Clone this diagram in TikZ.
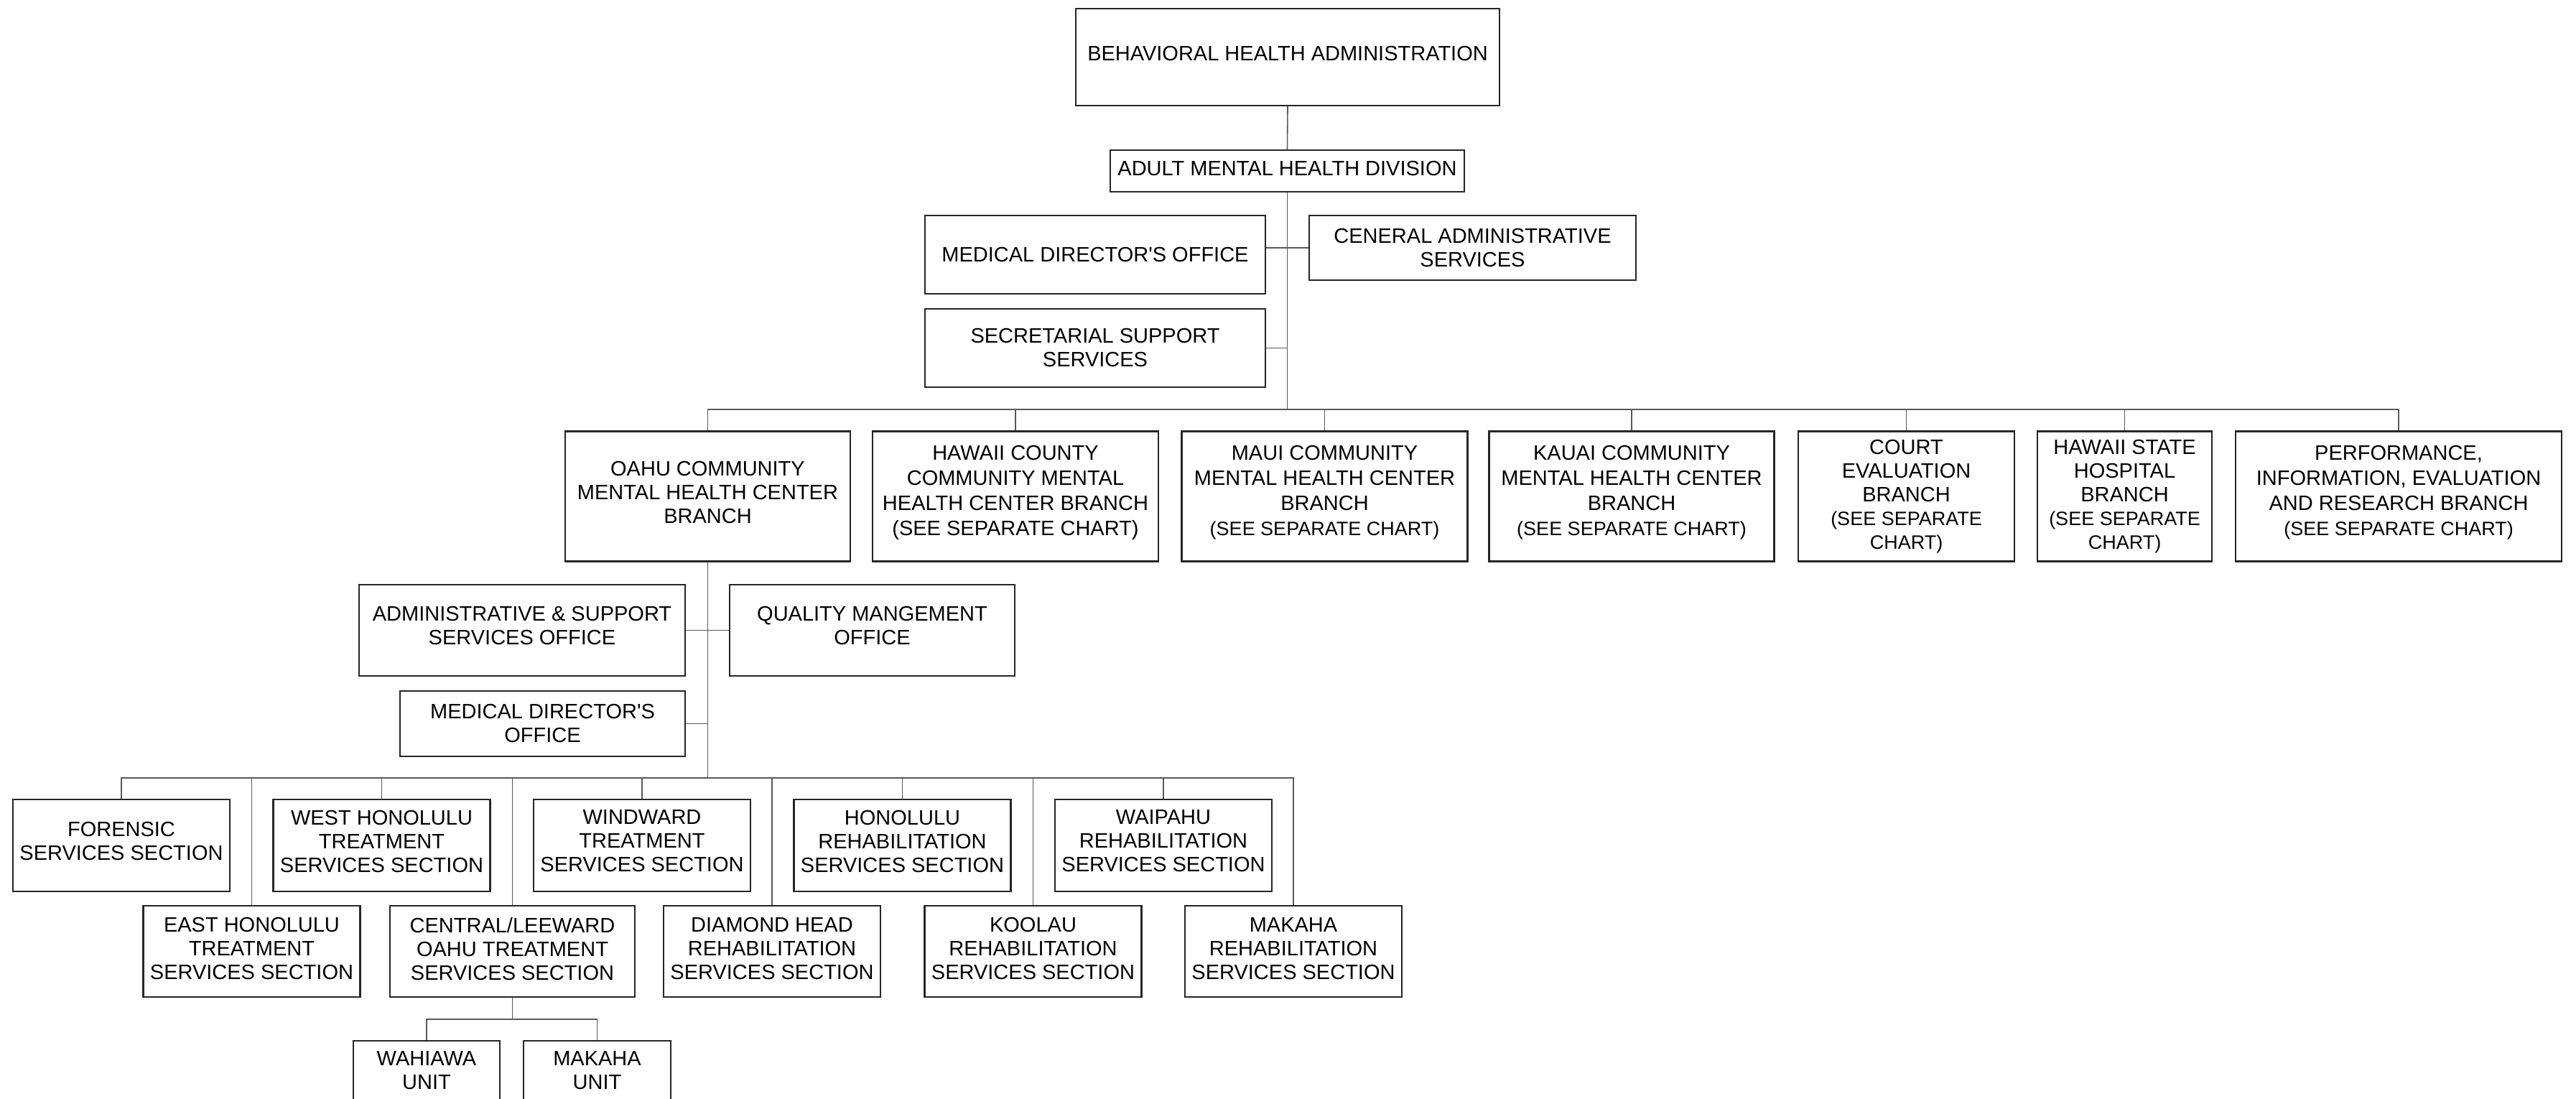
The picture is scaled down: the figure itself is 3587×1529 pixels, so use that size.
\documentclass[tikz,border=0pt]{standalone}
\usepackage{fontspec}
\setmainfont{Liberation Sans}
\begin{document}
\begin{tikzpicture}[x=1pt,y=-1pt,
  box/.style={draw=black!85, line width=2.2pt, fill=white, align=center, inner sep=0pt,
    font=\fontsize{29}{33}\selectfont},
  wide/.style={font=\fontsize{29}{35}\selectfont},
  conn/.style={draw=black!65, line width=1.6pt}]
\newcommand\smtxt[1]{{\fontsize{27}{35}\selectfont #1}}
\useasboundingbox (0,0) rectangle (3587,1529);
\clip (0,0) rectangle (3587,1529);
\fill[white] (0,0) rectangle (3587,1529);

% top levels
\node[box, minimum width=590, minimum height=135, text depth=10pt] (bha) at (1793,79.5) {BEHAVIORAL HEALTH ADMINISTRATION};
\node[box, minimum width=493, minimum height=58, text depth=8pt] (amhd) at (1792.5,238) {ADULT MENTAL HEALTH DIVISION};
\node[box, minimum width=474, minimum height=109] (mdo) at (1525,354.5) {MEDICAL DIRECTOR\textquotesingle S OFFICE};
\node[box, minimum width=455, minimum height=90] (gas) at (2050.5,345) {CENERAL ADMINISTRATIVE\\SERVICES};
\node[box, minimum width=474, minimum height=109] (sss) at (1525,484.5) {SECRETARIAL SUPPORT\\SERVICES};

% branches
\node[box, minimum width=397, minimum height=181, text depth=12pt] (oahu) at (985.5,691) {OAHU COMMUNITY\\MENTAL HEALTH CENTER\\BRANCH};
\node[box, wide, minimum width=398, minimum height=181, text depth=17pt] (hawaii) at (1414,691) {HAWAII COUNTY\\COMMUNITY MENTAL\\HEALTH CENTER BRANCH\\(SEE SEPARATE CHART)};
\node[box, wide, minimum width=398, minimum height=181, text depth=17pt] (maui) at (1844.5,691) {MAUI COMMUNITY\\MENTAL HEALTH CENTER\\BRANCH\\\smtxt{(SEE SEPARATE CHART)}};
\node[box, wide, minimum width=397, minimum height=181, text depth=17pt] (kauai) at (2272,691) {KAUAI COMMUNITY\\MENTAL HEALTH CENTER\\BRANCH\\\smtxt{(SEE SEPARATE CHART)}};
\node[box, minimum width=301, minimum height=181] (court) at (2654.5,691) {COURT\\EVALUATION\\BRANCH\\\smtxt{(SEE SEPARATE}\\\smtxt{CHART)}};
\node[box, minimum width=243, minimum height=181] (hsh) at (2958.5,691) {HAWAII STATE\\HOSPITAL\\BRANCH\\\smtxt{(SEE SEPARATE}\\\smtxt{CHART)}};
\node[box, wide, minimum width=454, minimum height=181, text depth=17pt] (perf) at (3340,691) {PERFORMANCE,\\INFORMATION, EVALUATION\\AND RESEARCH BRANCH\\\smtxt{(SEE SEPARATE CHART)}};

% Oahu offices
\node[box, minimum width=454, minimum height=127, text depth=14pt] (admin) at (727,877.5) {ADMINISTRATIVE \& SUPPORT\\SERVICES OFFICE};
\node[box, minimum width=397, minimum height=127, text depth=14pt] (qmo) at (1214.5,877.5) {QUALITY MANGEMENT\\OFFICE};
\node[box, minimum width=397, minimum height=91] (mdob) at (755.5,1007.5) {MEDICAL DIRECTOR\textquotesingle S\\OFFICE};

% sections top row
\node[box, minimum width=302, minimum height=128, text depth=12pt] (forensic) at (169,1177) {FORENSIC\\SERVICES SECTION};
\node[box, minimum width=302, minimum height=128, text depth=12pt] (west) at (531.5,1177) {WEST HONOLULU\\TREATMENT\\SERVICES SECTION};
\node[box, minimum width=302, minimum height=128, text depth=12pt] (windward) at (894,1177) {WINDWARD\\TREATMENT\\SERVICES SECTION};
\node[box, minimum width=302, minimum height=128, text depth=12pt] (honrehab) at (1256.5,1177) {HONOLULU\\REHABILITATION\\SERVICES SECTION};
\node[box, minimum width=302, minimum height=128, text depth=12pt] (waipahu) at (1620,1177) {WAIPAHU\\REHABILITATION\\SERVICES SECTION};

% sections bottom row
\node[box, minimum width=302, minimum height=127, text depth=8pt] (east) at (350.5,1324.5) {EAST HONOLULU\\TREATMENT\\SERVICES SECTION};
\node[box, minimum width=341, minimum height=127, text depth=8pt] (central) at (713.5,1324.5) {CENTRAL/LEEWARD\\OAHU TREATMENT\\SERVICES SECTION};
\node[box, minimum width=302, minimum height=127, text depth=8pt] (diamond) at (1075,1324.5) {DIAMOND HEAD\\REHABILITATION\\SERVICES SECTION};
\node[box, minimum width=302, minimum height=127, text depth=8pt] (koolau) at (1438.5,1324.5) {KOOLAU\\REHABILITATION\\SERVICES SECTION};
\node[box, minimum width=302, minimum height=127, text depth=8pt] (makaha) at (1801,1324.5) {MAKAHA\\REHABILITATION\\SERVICES SECTION};

% units
\node[box, minimum width=204, minimum height=91, text depth=8pt] (wah) at (594,1494.5) {WAHIAWA\\UNIT};
\node[box, minimum width=205, minimum height=91, text depth=8pt] (maku) at (831.5,1494.5) {MAKAHA\\UNIT};

% bars
\coordinate (bar) at (0,570);
\coordinate (sbar) at (0,1083);
\coordinate (ubar) at (0,1419);

% connectors
\draw[conn] (bha.south) -- (amhd.north);
\draw[conn] (amhd.south) -- (amhd.south |- bar);
\draw[conn] (gas.west) -- (gas.west -| mdo.east);
\draw[conn] (sss.east) -- (sss.east -| amhd.south);
\draw[conn] (oahu.north) -- (oahu.north |- bar) -- (perf.north |- bar) -- (perf.north);
\foreach \n in {hawaii,maui,kauai,court,hsh}
  \draw[conn] (\n.north) -- (\n.north |- bar);

\draw[conn] (oahu.south) -- (oahu.south |- sbar);
\draw[conn] (admin.east) -- (qmo.west);
\draw[conn] (mdob.east) -- (mdob.east -| oahu.south);

\draw[conn] (forensic.north) -- (forensic.north |- sbar) -- (makaha.north |- sbar) -- (makaha.north);
\foreach \n in {west,windward,honrehab,waipahu,east,central,diamond,koolau}
  \draw[conn] (\n.north) -- (\n.north |- sbar);

\draw[conn] (central.south) -- (central.south |- ubar);
\draw[conn] (wah.north) -- (wah.north |- ubar) -- (maku.north |- ubar) -- (maku.north);
\end{tikzpicture}
\end{document}
